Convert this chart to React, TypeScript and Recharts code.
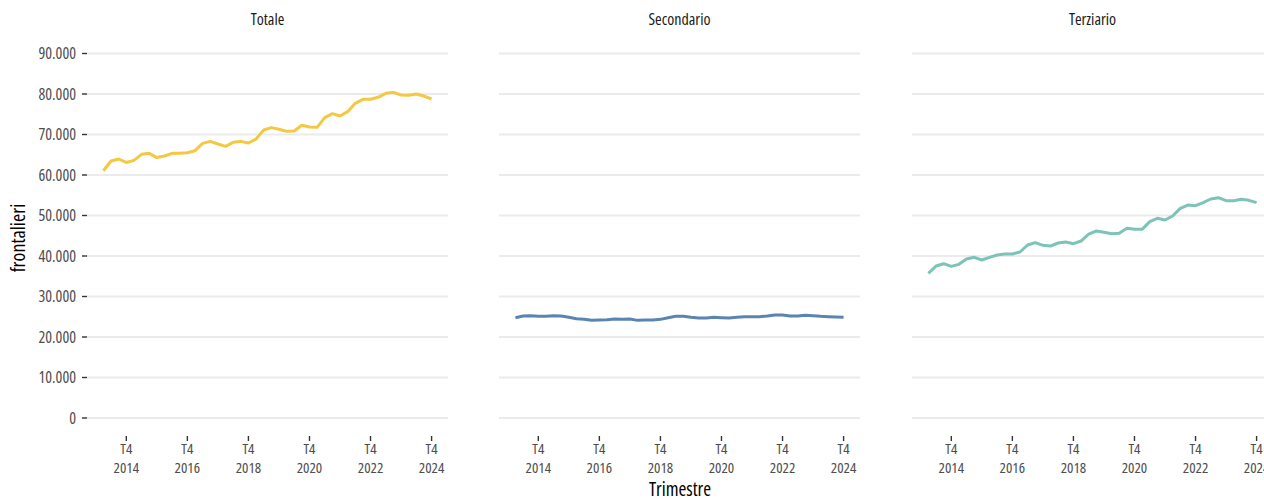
import React from 'react';
import { LineChart, Line, XAxis, YAxis, ReferenceLine } from 'recharts';

const FONT = "'Open Sans', 'DejaVu Sans Condensed', sans-serif";
const TSTYLE: React.CSSProperties = { fontStretch: '75%' };

const quarters = [
  'T1 2014', 'T2 2014', 'T3 2014', 'T4 2014',
  'T1 2015', 'T2 2015', 'T3 2015', 'T4 2015',
  'T1 2016', 'T2 2016', 'T3 2016', 'T4 2016',
  'T1 2017', 'T2 2017', 'T3 2017', 'T4 2017',
  'T1 2018', 'T2 2018', 'T3 2018', 'T4 2018',
  'T1 2019', 'T2 2019', 'T3 2019', 'T4 2019',
  'T1 2020', 'T2 2020', 'T3 2020', 'T4 2020',
  'T1 2021', 'T2 2021', 'T3 2021', 'T4 2021',
  'T1 2022', 'T2 2022', 'T3 2022', 'T4 2022',
  'T1 2023', 'T2 2023', 'T3 2023', 'T4 2023',
  'T1 2024', 'T2 2024', 'T3 2024', 'T4 2024',
];

const totale = [
  61060, 63450, 63950, 63100, 63600, 65100, 65350, 64300, 64700, 65350,
  65350, 65500, 66000, 67800, 68300, 67650, 67080, 68060, 68300, 67900,
  68900, 71100, 71700, 71280, 70780, 70860, 72270, 71850, 71770, 74150,
  75140, 74570, 75640, 77700, 78690, 78690, 79180, 80170, 80400, 79750,
  79670, 80000, 79500, 78770,
];

const secondario = [
  24770, 25190, 25270, 25100, 25100, 25270, 25190, 24860, 24530, 24360,
  24110, 24200, 24280, 24440, 24360, 24440, 24110, 24200, 24200, 24360,
  24770, 25100, 25100, 24860, 24690, 24690, 24860, 24770, 24690, 24860,
  25020, 25020, 25020, 25190, 25440, 25440, 25190, 25190, 25350, 25270,
  25100, 25020, 24940, 24860,
];

const terziario = [
  35720, 37530, 38100, 37450, 37940, 39260, 39670, 39010, 39670, 40250,
  40490, 40490, 40990, 42720, 43290, 42630, 42470, 43210, 43460, 43040,
  43700, 45400, 46170, 45840, 45510, 45590, 46830, 46580, 46580, 48480,
  49300, 48890, 49880, 51770, 52590, 52430, 53170, 54070, 54400, 53660,
  53660, 54000, 53750, 53170,
];

const panelTitles = ['Totale', 'Secondario', 'Terziario'];
const panelKeys = ['totale', 'secondario', 'terziario'];
const panelColors = ['#F4C842', '#5B84B3', '#7CC3B8'];
const yTicks = [0, 10000, 20000, 30000, 40000, 50000, 60000, 70000, 80000, 90000];

const data = quarters.map((q, i) => ({
  idx: i,
  q,
  totale: totale[i],
  secondario: secondario[i],
  terziario: terziario[i],
}));

const xTicks = quarters
  .map((q, i) => ({ q, i }))
  .filter(({ q }) => q.startsWith('T4') && Number(q.split(' ')[1]) % 2 === 0)
  .map(({ i }) => i);

const fmt = (v: number) => String(v).replace(/\B(?=(\d{3})+(?!\d))/g, '.');

const XTick = (props: any) => {
  const { x, y, payload } = props;
  const label = quarters[payload.value] || '';
  const [a, b] = label.split(' ');
  return (
    <text x={x} y={y} textAnchor="middle" fontFamily={FONT} fontSize={15} fill="#4D4D4D" style={TSTYLE}>
      <tspan x={x} dy={11}>{a}</tspan>
      <tspan x={x} dy={19}>{b}</tspan>
    </text>
  );
};

const YTick = (props: any) => {
  const { x, y, payload } = props;
  return (
    <text x={x} y={y} dy={5.6} textAnchor="end" fontFamily={FONT} fontSize={16} fill="#4D4D4D" style={TSTYLE}>
      {fmt(payload.value)}
    </text>
  );
};

const PLOT_W = 361;
const Y_AXIS_W = 87;
const panelLefts = [87, 499, 912];

const Panel = ({ k }: { k: number }) => {
  const first = k === 0;
  const left = first ? 0 : panelLefts[k];
  const width = first ? Y_AXIS_W + PLOT_W : PLOT_W;
  return (
    <div style={{ position: 'absolute', left, top: 0 }}>
      <LineChart width={width} height={501} data={data} margin={{ top: 40, right: 0, bottom: 5, left: 0 }}>
        <XAxis
          dataKey="idx"
          type="number"
          domain={[-2.15, 45.15]}
          ticks={xTicks}
          interval={0}
          height={60}
          axisLine={false}
          tickSize={5}
          tickLine={{ stroke: '#333333', strokeWidth: 1.4 }}
          tick={<XTick />}
          allowDataOverflow
        />
        {first ? (
          <YAxis
            width={Y_AXIS_W}
            type="number"
            domain={[-4444, 93333]}
            ticks={yTicks}
            interval={0}
            axisLine={false}
            tickSize={5}
            tickMargin={6}
            tickLine={{ stroke: '#333333', strokeWidth: 1.4 }}
            tick={<YTick />}
            allowDataOverflow
          />
        ) : (
          <YAxis
            width={0}
            type="number"
            domain={[-4444, 93333]}
            ticks={yTicks}
            interval={0}
            axisLine={false}
            tickLine={false}
            tick={false}
            allowDataOverflow
          />
        )}
        {yTicks.map((v) => (
          <ReferenceLine key={v} y={v} stroke="#EBEBEB" strokeWidth={1.8} />
        ))}
        <Line
          type="linear"
          dataKey={panelKeys[k]}
          stroke={panelColors[k]}
          strokeWidth={3}
          dot={false}
          strokeLinejoin="round"
          isAnimationActive={false}
        />
      </LineChart>
    </div>
  );
};

export default function App() {
  return (
    <div
      style={{
        position: 'absolute',
        left: 0,
        top: 0,
        width: 1264,
        height: 501,
        overflow: 'hidden',
        background: '#FFFFFF',
      }}
    >
      {[0, 1, 2].map((k) => (
        <Panel key={k} k={k} />
      ))}
      <svg
        width={1264}
        height={501}
        style={{ position: 'absolute', left: 0, top: 0, pointerEvents: 'none' }}
      >
        {panelTitles.map((t, k) => (
          <text
            key={t}
            x={panelLefts[k] + PLOT_W / 2}
            y={25}
            textAnchor="middle"
            fontFamily={FONT}
            fontSize={16}
            fill="#1A1A1A"
            style={TSTYLE}
          >
            {t}
          </text>
        ))}
        <text
          x={25}
          y={238}
          transform="rotate(-90 25 238)"
          textAnchor="middle"
          fontFamily={FONT}
          fontSize={20}
          fill="#000000"
          style={TSTYLE}
        >
          frontalieri
        </text>
        <text x={680} y={496} textAnchor="middle" fontFamily={FONT} fontSize={19} fill="#000000" style={TSTYLE}>
          Trimestre
        </text>
      </svg>
    </div>
  );
}
